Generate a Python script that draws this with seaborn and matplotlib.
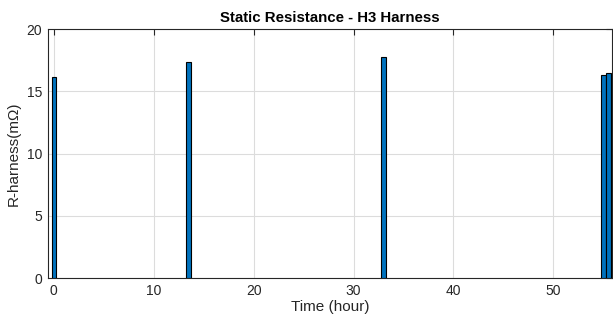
import matplotlib
matplotlib.use("Agg")
import matplotlib.pyplot as plt
import seaborn as sns
import pandas as pd

times = [0, 13.5, 33, 55, 55.5]
resistance = [16.14, 17.35, 17.75, 16.33, 16.47]
xticks = [0, 10, 20, 30, 40, 50]
yticks = [0, 5, 10, 15, 20]

sns.set_theme(style="white")
plt.rcParams['font.family'] = ['Liberation Sans', 'DejaVu Sans']

df = pd.DataFrame({"Time": times, "R": resistance})

fig = plt.figure(figsize=(6.13, 3.23), dpi=100)
ax = fig.add_axes([0.078, 0.139, 0.920, 0.771])

sns.barplot(data=df, x="Time", y="R", native_scale=True, width=0.9,
            color="#0072BD", saturation=1, edgecolor="black", linewidth=0.8,
            ax=ax, zorder=3)

ax.set_xlim(-0.6, 55.85)
ax.set_ylim(0, 20)
ax.set_xticks(xticks)
ax.set_yticks(yticks)
ax.set_xticklabels([str(t) for t in xticks])
ax.set_yticklabels([str(t) for t in yticks])
ax.grid(True, color="#DCDCDC", linewidth=0.8, zorder=0)
ax.set_axisbelow(True)
ax.tick_params(direction="in", length=4, width=0.8, top=True, right=True,
               labelsize=10, colors="#262626", pad=4)
for s in ax.spines.values():
    s.set_color("#262626")
    s.set_linewidth(0.8)
    s.set_visible(True)

ax.set_title("Static Resistance - H3 Harness", fontsize=10.8, fontweight="bold",
             color="black", pad=5)
ax.set_xlabel("Time (hour)", fontsize=11, color="#262626", labelpad=2)
ax.set_ylabel("R-harness(mΩ)", fontsize=11, color="#262626", labelpad=4)

fig.savefig("out.png", dpi=100)
